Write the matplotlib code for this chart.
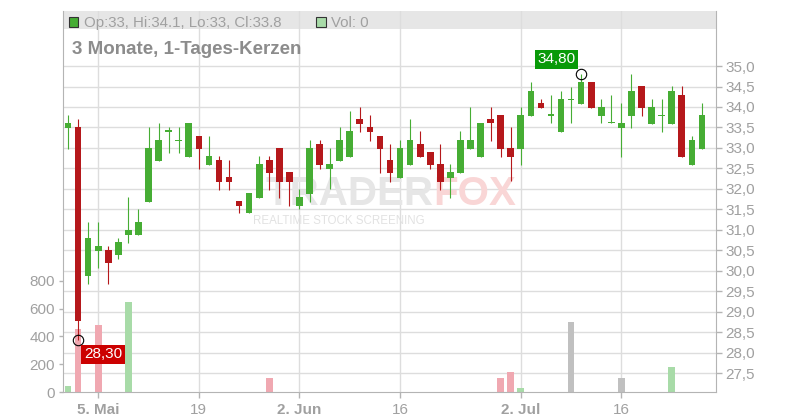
import matplotlib
matplotlib.use('Agg')
import matplotlib.pyplot as plt
from matplotlib.patches import Rectangle
from matplotlib.ticker import FuncFormatter, FixedLocator

plt.rcParams['font.family'] = ['Liberation Sans', 'DejaVu Sans']

# daily candles, index 0 = first trading day shown
opens = [33.49, 33.52, 29.87, 30.48, 30.50, 30.38, 30.87, 30.87, 31.68, 32.68,
         33.40, 33.17, 32.78, 33.29, 32.59, 32.70, 32.29, 31.70, 31.40, 31.78,
         32.70, 33.00, 32.41, 31.59, 31.87, 33.09, 32.48, 32.68, 32.78, 33.71,
         33.51, 33.29, 32.70, 32.27, 32.59, 33.09, 32.90, 32.61, 32.27, 32.39,
         32.98, 32.78, 33.70, 33.80, 32.99, 32.98, 33.78, 34.09, 33.79, 33.39,
         34.17, 34.08, 34.61, 33.78, 33.60, 33.49, 33.78, 34.51, 33.59, 33.78,
         33.59, 34.29, 32.59, 32.98]
highs = [33.80, 33.70, 31.18, 31.18, 30.60, 30.79, 31.80, 31.50, 33.52, 33.61,
         33.52, 33.52, 33.61, 33.29, 33.29, 32.80, 32.70, 31.70, 31.90, 32.80,
         32.80, 33.00, 32.41, 31.99, 33.19, 33.19, 32.99, 33.50, 33.90, 34.00,
         33.80, 33.29, 33.09, 33.19, 33.71, 33.41, 32.90, 33.09, 32.61, 33.41,
         34.00, 33.61, 34.00, 33.80, 33.51, 34.00, 34.61, 34.19, 34.29, 34.39,
         34.50, 34.80, 34.61, 34.19, 34.29, 34.09, 34.80, 34.51, 34.19, 34.19,
         34.51, 34.51, 33.29, 34.09]
lows = [32.97, 28.30, 29.67, 30.07, 29.67, 30.29, 30.68, 30.87, 31.68, 32.68,
        32.88, 32.88, 32.78, 32.48, 32.59, 31.98, 31.98, 31.40, 31.40, 31.78,
        31.98, 31.78, 31.59, 31.50, 31.68, 32.48, 31.99, 32.68, 32.78, 33.40,
        33.18, 32.39, 32.17, 32.27, 32.59, 32.78, 32.48, 31.98, 31.78, 32.39,
        32.98, 32.78, 33.17, 32.78, 32.18, 32.59, 33.78, 33.98, 33.60, 33.39,
        33.60, 34.08, 33.98, 33.60, 33.60, 32.78, 33.49, 33.78, 33.59, 33.39,
        33.59, 32.78, 32.59, 32.98]
closes = [33.61, 28.77, 30.79, 30.60, 30.19, 30.69, 30.99, 31.18, 32.99, 33.19,
          33.42, 33.19, 33.61, 32.98, 32.80, 32.17, 32.17, 31.59, 31.90, 32.61,
          32.39, 32.17, 32.17, 31.79, 32.99, 32.58, 32.61, 33.19, 33.41, 33.59,
          33.40, 32.98, 32.39, 33.00, 33.19, 32.78, 32.59, 32.17, 32.41, 33.19,
          33.19, 33.61, 33.60, 32.98, 32.78, 33.80, 34.39, 33.98, 33.81, 34.19,
          34.19, 34.61, 33.98, 34.00, 33.61, 33.61, 34.39, 33.98, 34.00, 33.80,
          34.39, 32.78, 33.19, 33.80]
volumes = [43, 453, 0, 482, 0, 0, 648, 0, 0, 0,
           0, 0, 0, 0, 0, 0, 0, 0, 0, 0,
           103, 0, 0, 0, 0, 0, 0, 0, 0, 0,
           0, 0, 0, 0, 0, 0, 0, 0, 0, 0,
           0, 0, 0, 103, 144, 31, 0, 0, 0, 0,
           506, 0, 0, 0, 0, 103, 0, 0, 0, 0,
           180, 0, 0, 0]

x_tick_pos = [3, 13, 23, 33, 45, 55]
x_tick_labels = ['5. Mai', '19', '2. Jun', '16', '2. Jul', '16']
price_ticks = [27.5, 28.0, 28.5, 29.0, 29.5, 30.0, 30.5, 31.0, 31.5, 32.0,
               32.5, 33.0, 33.5, 34.0, 34.5, 35.0]
volume_ticks = [0, 200, 400, 600, 800]

title = '3 Monate, 1-Tages-Kerzen'
header = 'Op:33, Hi:34.1, Lo:33, Cl:33.8'
header_vol = 'Vol: 0'
high_idx = 51
low_idx = 1

GREEN = '#46ad34'
RED = '#b5181b'
VOL_GREEN = '#a8dba8'
VOL_RED = '#f0a8b1'
VOL_GRAY = '#c0c0c0'
GRID = '#dddddd'
AXIS = '#b4b4b4'
LABEL = '#a0a0a0'


def de_fmt(v, _pos=None):
    return ('%.1f' % v).replace('.', ',')


def price_label(v):
    return ('%.2f' % v).replace('.', ',')


def volume_colors():
    cols = []
    for i, c in enumerate(closes):
        prev = closes[i - 1] if i > 0 else opens[i]
        if c - prev > 0.005:
            cols.append(VOL_GREEN)
        elif c - prev < -0.005:
            cols.append(VOL_RED)
        else:
            cols.append(VOL_GRAY)
    return cols


def main():
    fig = plt.figure(figsize=(8, 4.2), dpi=100)
    ax = fig.add_axes([63 / 800, 28 / 420, 653 / 800, 381 / 420])
    vol_ax = ax.twinx()

    ax.set_xlim(-0.5, 64.4)
    ax.set_ylim(27.036, 36.345)
    vol_ax.set_ylim(0, 2741)

    ax.set_axisbelow(True)
    ax.grid(True, color=GRID, lw=1)

    # header band
    ax.add_patch(Rectangle((0, 0.952), 1, 0.048, transform=ax.transAxes,
                           fc='#e6e6e6', ec='none', zorder=0.3))
    ax.add_patch(Rectangle((0.0085, 0.959), 0.0145, 0.025, transform=ax.transAxes,
                           fc=GREEN, ec='#333333', lw=0.8, zorder=3))
    ax.text(0.032, 0.958, header, transform=ax.transAxes, fontsize=10.8,
            color=LABEL, va='baseline', zorder=3)
    ax.add_patch(Rectangle((0.388, 0.959), 0.0145, 0.025, transform=ax.transAxes,
                           fc=VOL_GREEN, ec='#333333', lw=0.8, zorder=3))
    ax.text(0.411, 0.958, header_vol, transform=ax.transAxes, fontsize=10.8,
            color=LABEL, va='baseline', zorder=3)
    ax.text(0.0138, 0.886, title, transform=ax.transAxes, fontsize=13.5,
            fontweight='bold', color='#8c8c8c', va='baseline', zorder=3)

    # watermark
    ax.text(0.567, 0.49, 'TRADER', transform=ax.transAxes, fontsize=29,
            fontweight='bold', color='#e6e6e6', ha='right', va='baseline', zorder=0.8)
    ax.text(0.567, 0.49, 'FOX', transform=ax.transAxes, fontsize=29,
            fontweight='bold', color='#f9d6d6', ha='left', va='baseline', zorder=0.8)
    ax.text(0.422, 0.448, 'REALTIME STOCK SCREENING', transform=ax.transAxes,
            fontsize=8.3, color='#e2e2e2', ha='center', va='center', zorder=0.8)

    # volume bars, drawn on the price axes but scaled by the volume axes
    xs = list(range(len(closes)))
    ax.bar(xs, volumes, width=0.66, color=volume_colors(),
           transform=vol_ax.transData, zorder=1)

    # candles
    for i in xs:
        o, h, l, c = opens[i], highs[i], lows[i], closes[i]
        col = GREEN if c >= o else RED
        ax.vlines(i, l, h, color=col, lw=0.8, zorder=2)
        body = max(abs(c - o), 0.03)
        ax.bar(i, body, bottom=min(o, c), width=0.66, color=col, zorder=2.5)

    # high / low markers
    ax.plot(high_idx, highs[high_idx], marker='o', ms=7.5, mfc='none',
            mec='black', mew=0.8, zorder=4)
    ax.annotate(price_label(highs[high_idx]),
                xy=(high_idx, highs[high_idx]), xytext=(-25, 15),
                textcoords='offset pixels', ha='center', va='center',
                color='white', fontsize=11, zorder=5,
                bbox=dict(boxstyle='square,pad=0.17', fc='#099a09', ec='none'))
    ax.plot(low_idx, lows[low_idx], marker='o', ms=7.5, mfc='none',
            mec='black', mew=0.8, zorder=4)
    ax.annotate(price_label(lows[low_idx]),
                xy=(low_idx, lows[low_idx]), xytext=(25, -14),
                textcoords='offset pixels', ha='center', va='center',
                color='white', fontsize=11, zorder=5,
                bbox=dict(boxstyle='square,pad=0.17', fc='#cc0000', ec='none'))

    # axes styling
    ax.yaxis.tick_right()
    ax.yaxis.set_major_locator(FixedLocator(price_ticks))
    ax.yaxis.set_major_formatter(FuncFormatter(de_fmt))
    ax.set_xticks(x_tick_pos)
    ax.set_xticklabels(x_tick_labels)
    for lbl in ax.get_xticklabels():
        if '.' in lbl.get_text():
            lbl.set_fontweight('bold')
    ax.tick_params(axis='both', colors=AXIS, labelcolor=LABEL, labelsize=11,
                   length=4, width=1)
    ax.tick_params(axis='y', pad=3)
    ax.tick_params(axis='x', pad=4)

    vol_ax.yaxis.tick_left()
    vol_ax.set_yticks(volume_ticks)
    vol_ax.tick_params(axis='y', colors=AXIS, labelcolor=LABEL, labelsize=11,
                       length=3, width=1, pad=3)

    for a in (ax, vol_ax):
        a.spines['top'].set_visible(False)
    for s in ('left', 'right', 'bottom'):
        ax.spines[s].set_color(AXIS)
        vol_ax.spines[s].set_visible(False)

    fig.savefig('out.png', dpi=100)


if __name__ == '__main__':
    main()
